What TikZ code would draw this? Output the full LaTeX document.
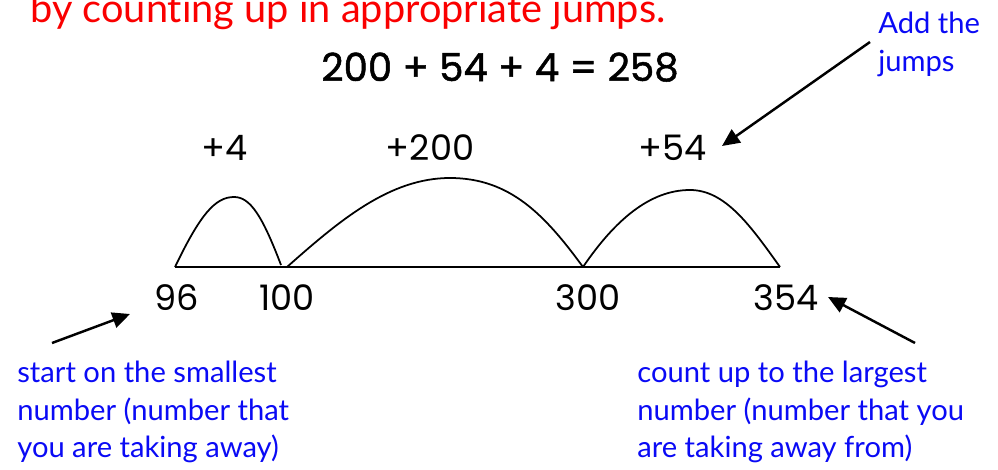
\documentclass[tikz,border=0pt]{standalone}
\usepackage{fontspec}
\setmainfont{Lato}[Ligatures=NoCommon]
\newfontfamily\numfont{Poppins}
\newfontfamily\eqfont{Poppins}[FakeBold=1.3]
\usetikzlibrary{arrows.meta}
\definecolor{noteblue}{RGB}{10,10,245}
\definecolor{titlered}{RGB}{250,0,0}
\begin{document}
\begin{tikzpicture}[x=0.02cm,y=-0.02cm,
  num/.style={font=\numfont\fontsize{20}{24}\selectfont, anchor=base, inner sep=0pt},
  note/.style={font=\fontsize{16.6}{21.3}\selectfont, text=noteblue, align=left, inner sep=0pt},
  pointer/.style={line width=1.4pt, -{Triangle[length=10pt,width=9pt]}},
  jump/.style={line width=1pt}]
\useasboundingbox (0,0) rectangle (998,470);
% title
\node[font=\fontsize{22.6}{26}\selectfont, text=titlered, anchor=base west, inner sep=0pt] (title) at (30,22) {by counting up in appropriate jumps.};
\node[font=\eqfont\fontsize{22}{26}\selectfont, anchor=base, inner sep=0pt] (eq) at (500,81) {200 + 54 + 4 = 258};
% number line
\coordinate (p96) at (175,267);
\coordinate (p100a) at (281,265);
\coordinate (p100) at (287,267);
\coordinate (p300) at (583,267);
\coordinate (p354) at (780,267);
\draw[jump] (p96) -- (p354);
\draw[jump] (p96) .. controls (200,215) and (215,197) .. (234,197) .. controls (250,197) and (262,215) .. (p100a);
\draw[jump] (p100) .. controls (340,220) and (390,178) .. (450,178) .. controls (510,178) and (545,215) .. (p300);
\draw[jump] (p300) .. controls (615,220) and (650,190) .. (690,190) .. controls (725,190) and (750,225) .. (p354);
% labels
\node[num] (l4) at (225,160) {+4};
\node[num] (l200) at (430,160) {+200};
\node[num] (l54) at (673,160) {+54};
\node[num] (n96) at (177,310) {96};
\node[num] (n100) at (287,310) {100};
\node[num] (n300) at (588,310) {300};
\node[num] (n354) at (786,310) {354};
% notes
\node[note, anchor=north west] (addj) at (878,12) {Add the\\jumps};
\node[note, anchor=north west] (start) at (17,361) {start on the smallest\\number (number that\\you are taking away)};
\node[note, anchor=north west] (count) at (637,361) {count up to the largest\\number (number that you\\are taking away from)};
% pointers
\coordinate (a1) at (870,42);
\coordinate (t1) at (722,146);
\coordinate (a2) at (52,343);
\coordinate (t2) at (130,314);
\coordinate (a3) at (915,343);
\coordinate (t3) at (828,297);
\draw[pointer] (a1) -- (t1);
\draw[pointer] (a2) -- (t2);
\draw[pointer] (a3) -- (t3);
\end{tikzpicture}
\end{document}
